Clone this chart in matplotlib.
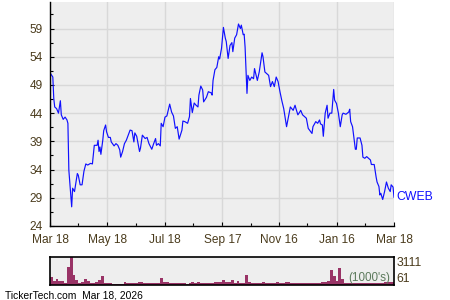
import matplotlib
matplotlib.use("Agg")
import matplotlib.pyplot as plt
import numpy as np
import matplotlib.dates as mdates

plt.rcParams['font.family'] = ['Liberation Sans', 'DejaVu Sans']

# ---- data ----
start_date = "2025-03-18"
price_days = [0, 1, 3, 4, 5, 7, 9, 11, 12, 14, 16, 18, 19, 20, 23, 24, 26, 29, 30, 32, 34, 36, 38, 40,
              43, 45, 47, 50, 51, 52, 53, 54, 56, 57, 59, 60, 62, 64, 65, 68, 70, 72, 74, 75, 77, 79,
              81, 83, 85, 87, 89, 90, 92, 95, 96, 98, 101, 103, 105, 108, 110, 112, 113, 115, 117,
              118, 120, 122, 124, 127, 129, 131, 133, 135, 137, 140, 141, 143, 146, 148, 149, 151,
              153, 155, 157, 158, 160, 162, 163, 166, 168, 171, 172, 173, 175, 177, 179, 180, 182,
              184, 186, 187, 189, 191, 193, 194, 196, 198, 200, 202, 203, 205, 206, 207, 209, 210,
              212, 214, 216, 217, 220, 222, 225, 226, 228, 230, 232, 234, 236, 238, 240, 242, 244,
              246, 248, 249, 251, 254, 255, 258, 260, 261, 263, 265, 266, 268, 270, 272, 274, 278,
              279, 282, 284, 286, 287, 289, 290, 292, 294, 295, 297, 299, 301, 302, 304, 306, 308,
              310, 311, 314, 317, 318, 319, 321, 324, 325, 326, 329, 331, 332, 334, 336, 338, 340,
              341, 344, 346, 347, 349, 350, 351, 353, 355, 357, 359, 361, 362, 364, 365]
price = [51.2, 50.9, 50.4, 46.6, 45.1, 44.8, 44.0, 46.2, 43.7, 42.9, 43.3, 42.8, 42.2, 33.9, 27.4, 30.7,
         30.1, 33.3, 33.0, 31.3, 31.3, 33.7, 35.0, 34.8, 35.1, 35.0, 38.3, 38.3, 39.2, 37.2, 38.0,
         36.7, 39.2, 40.9, 41.9, 40.7, 39.7, 39.7, 38.9, 38.2, 38.6, 38.3, 37.5, 36.2, 37.2, 38.6,
         39.2, 40.1, 41.0, 40.9, 38.9, 40.5, 39.9, 37.2, 37.8, 40.1, 39.5, 39.7, 38.6, 37.6, 38.6,
         39.5, 38.3, 38.6, 38.2, 42.2, 41.6, 43.3, 43.5, 45.6, 44.2, 43.5, 41.3, 41.6, 39.4, 41.0,
         42.6, 42.5, 42.2, 43.4, 46.6, 44.1, 45.8, 45.4, 45.1, 47.2, 48.8, 48.1, 46.0, 46.8, 47.8,
         47.6, 47.2, 49.8, 51.7, 52.1, 54.0, 53.6, 55.5, 59.2, 57.3, 56.7, 53.7, 56.0, 56.5, 54.9,
         57.3, 57.9, 59.8, 59.0, 59.6, 57.9, 58.0, 55.7, 47.5, 50.7, 49.8, 50.4, 50.1, 51.9, 49.8,
         51.3, 54.7, 54.0, 51.3, 51.0, 50.7, 48.7, 49.6, 48.7, 50.4, 49.6, 47.8, 46.2, 44.8, 43.7,
         41.6, 44.2, 45.1, 44.5, 45.4, 44.8, 43.7, 44.2, 44.5, 43.7, 43.4, 43.1, 41.3, 40.4, 41.6,
         42.5, 42.2, 42.8, 42.1, 41.9, 39.9, 44.0, 45.4, 43.1, 44.0, 44.0, 48.2, 46.3, 45.7, 44.0,
         41.6, 43.7, 44.0, 43.8, 44.2, 44.7, 42.5, 41.6, 37.6, 37.6, 39.6, 39.6, 38.3, 36.2, 36.0,
         36.3, 36.0, 35.7, 34.9, 34.9, 32.7, 31.8, 31.0, 29.5, 29.8, 28.7, 30.1, 31.8, 30.7, 30.1,
         31.3, 30.9, 29.1]

volume = [840, 400, 660, 480, 400, 250, 2010, 3111, 1100, 550, 180, 300, 660, 400, 180, 180, 290, 550,
          1025, 250, 250, 180, 150, 150, 150, 110, 360, 220, 220, 250, 220, 290, 360, 180, 220, 220,
          220, 250, 200, 770, 360, 360, 220, 220, 250, 220, 250, 250, 150, 250, 360, 220, 290, 220,
          220, 250, 180, 220, 360, 360, 360, 550, 290, 290, 550, 250, 470, 250, 250, 1135, 290, 220,
          220, 250, 250, 360, 220, 220, 250, 250, 360, 220, 220, 290, 290, 220, 220, 180, 180, 220,
          220, 220, 250, 250, 220, 220, 360, 360, 400, 1680, 1025, 480, 1870, 660, 220, 220, 250,
          220, 220, 250, 220, 220, 250, 220, 220, 250, 220, 250, 360, 360, 360, 360]
volume_step_days = 3

tick_dates = ["2025-03-18", "2025-05-18", "2025-07-18", "2025-09-17", "2025-11-16", "2026-01-16", "2026-03-18"]
tick_labels = ["Mar 18", "May 18", "Jul 18", "Sep 17", "Nov 16", "Jan 16", "Mar 18"]
y_ticks = [24, 29, 34, 39, 44, 49, 54, 59]
ticker = "CWEB"
vol_max_label = "3111"
vol_min_label = "61"
footer = "TickerTech.com  Mar 18, 2026"

# ---- derived ----
base = np.datetime64(start_date)
px = base + np.array(price_days).astype('timedelta64[D]')
vx = base + (np.arange(len(volume)) * volume_step_days).astype('timedelta64[D]')
tdates = np.array(tick_dates, dtype='datetime64[D]')
minor_dates = tdates[:-1] + (tdates[1:] - tdates[:-1]) // 2

txt_color = '#4a3b1c'
bg = '#eeeeee'
grid_c = '#d8d8d8'

fig = plt.figure(figsize=(4.5, 3.0), dpi=100)
ax = fig.add_axes([50/450, 1 - 226/300, 344/450, 224/300])
ax.set_facecolor(bg)
ax.plot(px, price, color='#1010ff', lw=0.85)
ax.set_xlim(tdates[0], tdates[-1])
ax.set_ylim(24, 63.7)
ax.set_yticks(y_ticks)
ax.set_yticks([v + 2.5 for v in y_ticks], minor=True)
ax.set_xticks(tdates)
ax.set_xticklabels(tick_labels)
ax.set_xticks(minor_dates, minor=True)
ax.grid(True, which='major', color=grid_c, lw=1.0)
ax.set_axisbelow(True)
for s in ['top', 'right']:
    ax.spines[s].set_visible(False)
for s in ['left', 'bottom']:
    ax.spines[s].set_color('black')
    ax.spines[s].set_linewidth(1.0)
ax.tick_params(which='both', direction='in', colors='black', labelcolor=txt_color, labelsize=8.6)
ax.tick_params(which='major', length=3, width=0.8)
ax.tick_params(which='minor', length=2.5, width=0.8)
ax.tick_params(axis='x', pad=5.5)
ax.tick_params(axis='y', pad=5)
ax.text(1.008, (price[-1] - 24) / (63.7 - 24), ticker, transform=ax.transAxes,
        color='#1010ff', fontsize=8.8, va='center', ha='left')

vax = fig.add_axes([50/450, 1 - 285/300, 344/450, 28.3/300])
vax.set_facecolor(bg)
vax.bar(vx, volume, width=volume_step_days, align='edge', color='#993366', lw=0)
vax.set_xlim(tdates[0], tdates[-1])
vax.set_ylim(0, 3111)
vax.set_xticks([])
vax.set_yticks([])
for s in vax.spines.values():
    s.set_color('black')
    s.set_linewidth(1.2)
vax.text(1.008, 1.0, vol_max_label, transform=vax.transAxes, color=txt_color,
         fontsize=8.8, va='top', ha='left')
vax.text(1.008, 0.0, vol_min_label, transform=vax.transAxes, color=txt_color,
         fontsize=8.8, va='bottom', ha='left')
vax.text(0.99, 0.03, "(1000's)", transform=vax.transAxes, color='#5c7a5c',
         fontsize=8.4, va='bottom', ha='right')

fig.text(5/450, 1 - 295/300, footer, fontsize=7.4, color='black', va='center', ha='left')

fig.savefig("out.png", dpi=100)
